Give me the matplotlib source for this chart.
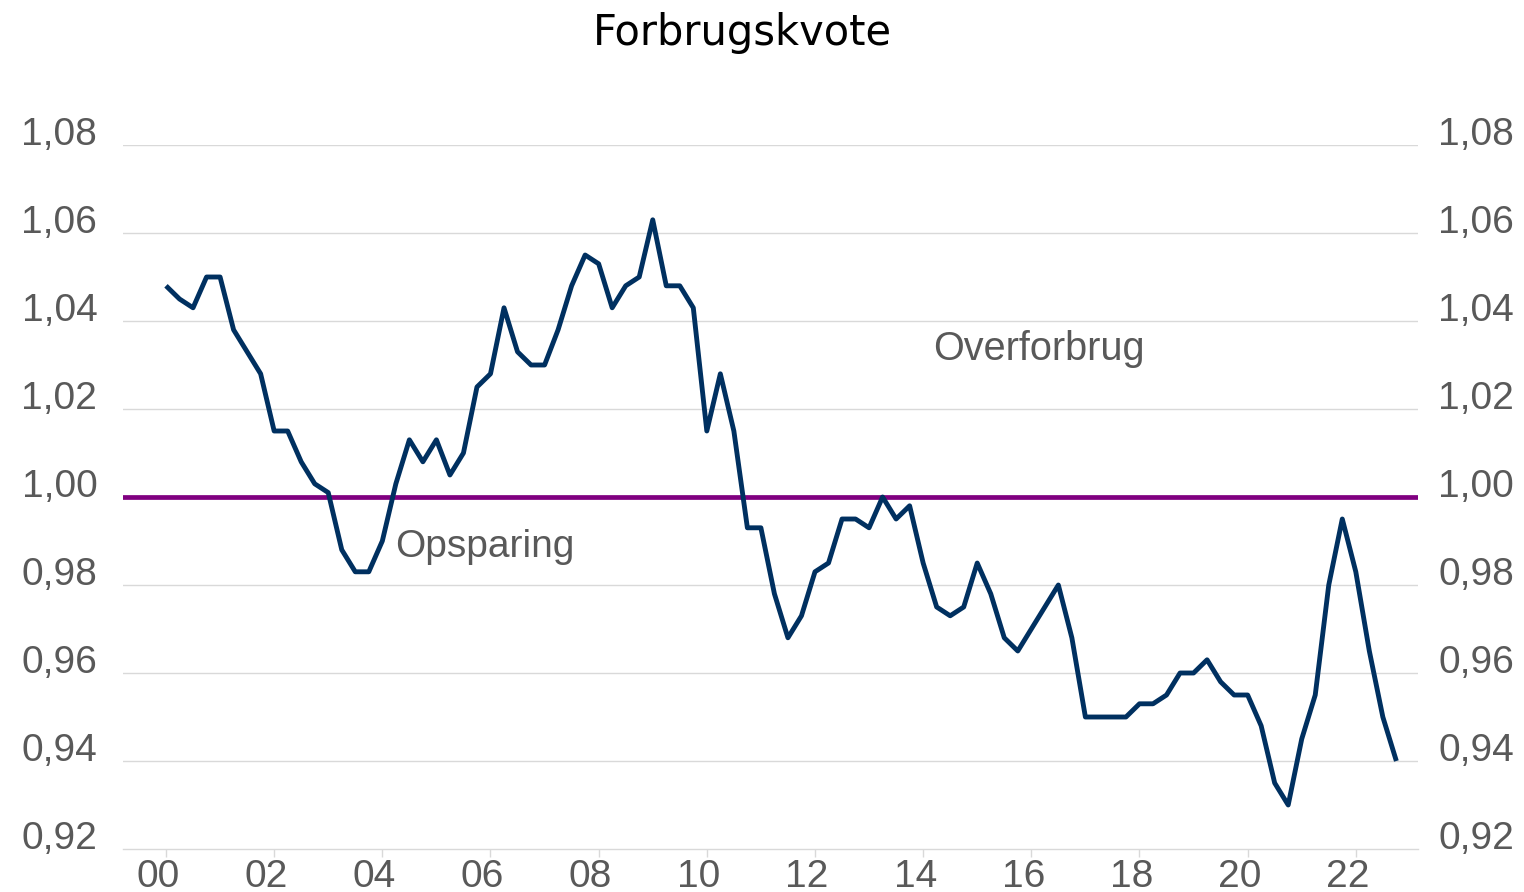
import numpy as np
import matplotlib
matplotlib.use("Agg")
import matplotlib.pyplot as plt
from matplotlib.ticker import FixedLocator, FuncFormatter
from matplotlib.transforms import ScaledTranslation

# ---- data ----
title = "Forbrugskvote"
start_year = 2000
forbrugskvote = [
    1.048, 1.045, 1.043, 1.050, 1.050, 1.038, 1.033, 1.028,
    1.015, 1.015, 1.008, 1.003, 1.001, 0.988, 0.983, 0.983,
    0.990, 1.003, 1.013, 1.008, 1.013, 1.005, 1.010, 1.025,
    1.028, 1.043, 1.033, 1.030, 1.030, 1.038, 1.048, 1.055,
    1.053, 1.043, 1.048, 1.050, 1.063, 1.048, 1.048, 1.043,
    1.015, 1.028, 1.015, 0.993, 0.993, 0.978, 0.968, 0.973,
    0.983, 0.985, 0.995, 0.995, 0.993, 1.000, 0.995, 0.998,
    0.985, 0.975, 0.973, 0.975, 0.985, 0.978, 0.968, 0.965,
    0.970, 0.975, 0.980, 0.968, 0.950, 0.950, 0.950, 0.950,
    0.953, 0.953, 0.955, 0.960, 0.960, 0.963, 0.958, 0.955,
    0.955, 0.948, 0.935, 0.930, 0.945, 0.955, 0.980, 0.995,
    0.983, 0.965, 0.950, 0.940,
]
reference_level = 1.00
y_ticks = [0.92, 0.94, 0.96, 0.98, 1.00, 1.02, 1.04, 1.06, 1.08]
x_tick_years = list(range(2000, 2023, 2))
x_tick_labels = [f"{y % 100:02d}" for y in x_tick_years]
label_over = "Overforbrug"
label_under = "Opsparing"

# ---- styling ----
NAVY = "#003060"
PURPLE = "#800080"
GRID = "#D9D9D9"
TXT = "#595959"
TICKFONT = ["Liberation Sans", "DejaVu Sans"]

W, H = 1524, 892
fig = plt.figure(figsize=(W / 100, H / 100), dpi=100)
ax = fig.add_axes([123 / W, 1 - 849 / H, (1418 - 123) / W, (849 - 145) / H])

x = start_year + np.arange(len(forbrugskvote)) / 4.0
ax.set_xlim(start_year - 0.795, start_year + 23.15)
ax.set_ylim(y_ticks[0], y_ticks[-1])

for yv in y_ticks[1:]:
    ax.axhline(yv, color=GRID, lw=1.0, zorder=1)
ax.axhline(reference_level, color=PURPLE, lw=3.4, zorder=2)
ax.plot(x, forbrugskvote, color=NAVY, lw=3.5, solid_joinstyle="round",
        solid_capstyle="butt", zorder=3)

for s in ["top", "right", "left"]:
    ax.spines[s].set_visible(False)
ax.spines["bottom"].set_color(GRID)
ax.spines["bottom"].set_linewidth(1.0)

comma = FuncFormatter(lambda v, p: f"{v:.2f}".replace(".", ","))

ax.xaxis.set_major_locator(FixedLocator(x_tick_years))
ax.set_xticklabels(x_tick_labels)
ax.tick_params(axis="x", direction="out", length=6, width=1.0, color=GRID,
               pad=1, labelsize=28, labelcolor=TXT)
shift = ScaledTranslation(-8 / 100, 0, fig.dpi_scale_trans)
for t in ax.get_xticklabels():
    t.set_fontfamily(TICKFONT)
    t.set_transform(t.get_transform() + shift)

ax.yaxis.set_major_locator(FixedLocator(y_ticks))
ax.yaxis.set_major_formatter(comma)
ax.tick_params(axis="y", length=0, pad=18.5, labelsize=28, labelcolor=TXT)
for t in ax.get_yticklabels():
    t.set_fontfamily(TICKFONT)
    t.set_verticalalignment("baseline")

ax2 = ax.twinx()
ax2.set_ylim(ax.get_ylim())
for s in ax2.spines.values():
    s.set_visible(False)
ax2.yaxis.set_major_locator(FixedLocator(y_ticks))
ax2.yaxis.set_major_formatter(comma)
ax2.tick_params(axis="y", length=0, pad=14.5, labelsize=28, labelcolor=TXT)
for t in ax2.get_yticklabels():
    t.set_fontfamily(TICKFONT)
    t.set_verticalalignment("baseline")

ax.text(2014.18, 1.0311, label_over, fontsize=28.5, color=TXT,
        family=TICKFONT, ha="left", va="baseline", zorder=4)
ax.text(2004.23, 0.9864, label_under, fontsize=28, color=TXT,
        family=TICKFONT, ha="left", va="baseline", zorder=4)

fig.text(742 / W, 1 - 45 / H, title, fontsize=30, color="#000000",
         family=["DejaVu Sans"], ha="center", va="baseline")

fig.savefig("out.png", dpi=100, facecolor="white")
